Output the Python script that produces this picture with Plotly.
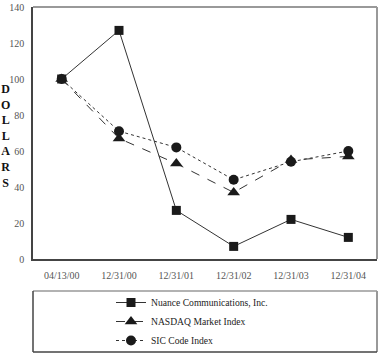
import plotly.graph_objects as go

dates = ["04/13/00", "12/31/00", "12/31/01", "12/31/02", "12/31/03", "12/31/04"]
nuance = [100, 127, 27, 7, 22, 12]
nasdaq = [100, 67, 53, 37, 55, 57]
sic = [100, 71, 62, 44, 54, 60]
names = ["Nuance Communications, Inc.", "NASDAQ Market Index", "SIC Code Index"]
y_ticks = [0, 20, 40, 60, 80, 100, 120, 140]

FONT = "Liberation Serif, Times New Roman, serif"
LC = "#333333"
W, H = 379, 354
ML, MR, MT, MB = 33, 2, 7, 2
PW, PH = W - ML - MR, H - MT - MB


def py(pix):
    return (H - MB - pix) / PH


def px(pix):
    return (pix - ML) / PW


fig = go.Figure()
fig.add_trace(go.Scatter(x=dates, y=nuance, name=names[0], mode="lines+markers",
                         line=dict(color=LC, width=1, dash="solid"),
                         marker=dict(symbol="square", size=9, color="#1a1a1a")))
fig.add_trace(go.Scatter(x=dates, y=nasdaq, name=names[1], mode="lines+markers",
                         line=dict(color=LC, width=1, dash="dash"),
                         marker=dict(symbol="triangle-up", size=11, color="#1a1a1a")))
fig.add_trace(go.Scatter(x=dates, y=sic, name=names[2], mode="lines+markers",
                         line=dict(color=LC, width=1, dash="dot"),
                         marker=dict(symbol="circle", size=10, color="#1a1a1a")))

fig.update_layout(
    width=W, height=H,
    margin=dict(l=ML, r=MR, t=MT, b=MB, autoexpand=False),
    paper_bgcolor="white", plot_bgcolor="white",
    font=dict(family=FONT, size=10, color="#555555"),
    showlegend=True,
    legend=dict(x=px(111), y=py(288), xanchor="left", yanchor="top",
                font=dict(family=FONT, size=9.6, color="#222222"),
                bgcolor="rgba(0,0,0,0)", borderwidth=0, itemwidth=30,
                tracegroupgap=0),
    xaxis=dict(type="category", range=[-0.5, 5.5], showgrid=False, zeroline=False,
               showline=True, linecolor="#444444", linewidth=1.5, ticks="",
               tickfont=dict(family=FONT, size=10, color="#555555"), ticklabelstandoff=6),
    yaxis=dict(range=[0, 140], tickvals=y_ticks, showgrid=False, zeroline=False,
               domain=[py(259), 1],
               showline=True, linecolor="#444444", linewidth=1.5, ticks="",
               tickfont=dict(family=FONT, size=10, color="#555555"), ticklabelstandoff=5),
)

yb = py(259)
# top & right frame lines (gray)
fig.add_shape(type="line", xref="paper", yref="paper", x0=0, x1=1, y0=1, y1=1,
              line=dict(color="#777777", width=1.5))
fig.add_shape(type="line", xref="paper", yref="paper", x0=1, x1=1, y0=yb, y1=1,
              line=dict(color="#999999", width=2))

# legend box
ly0, ly1 = py(352), py(291)
fig.add_shape(type="line", xref="paper", yref="paper", x0=0, x1=1, y0=ly1, y1=ly1,
              line=dict(color="#999999", width=1.5))
fig.add_shape(type="line", xref="paper", yref="paper", x0=1, x1=1, y0=ly0, y1=ly1,
              line=dict(color="#999999", width=2))
fig.add_shape(type="line", xref="paper", yref="paper", x0=0, x1=1, y0=ly0, y1=ly0,
              line=dict(color="#444444", width=1.5))
fig.add_shape(type="line", xref="paper", yref="paper", x0=0, x1=0, y0=ly0, y1=ly1,
              line=dict(color="#444444", width=1.5))

fig.add_annotation(text="<b>" + "<br>".join(list("DOLLARS")) + "</b>",
                   xref="paper", yref="paper",
                   x=px(5.5), y=py(136), xanchor="center", yanchor="middle", showarrow=False,
                   font=dict(family=FONT, size=12, color="#111111"),
                   align="center")
fig.write_html("out.html")
